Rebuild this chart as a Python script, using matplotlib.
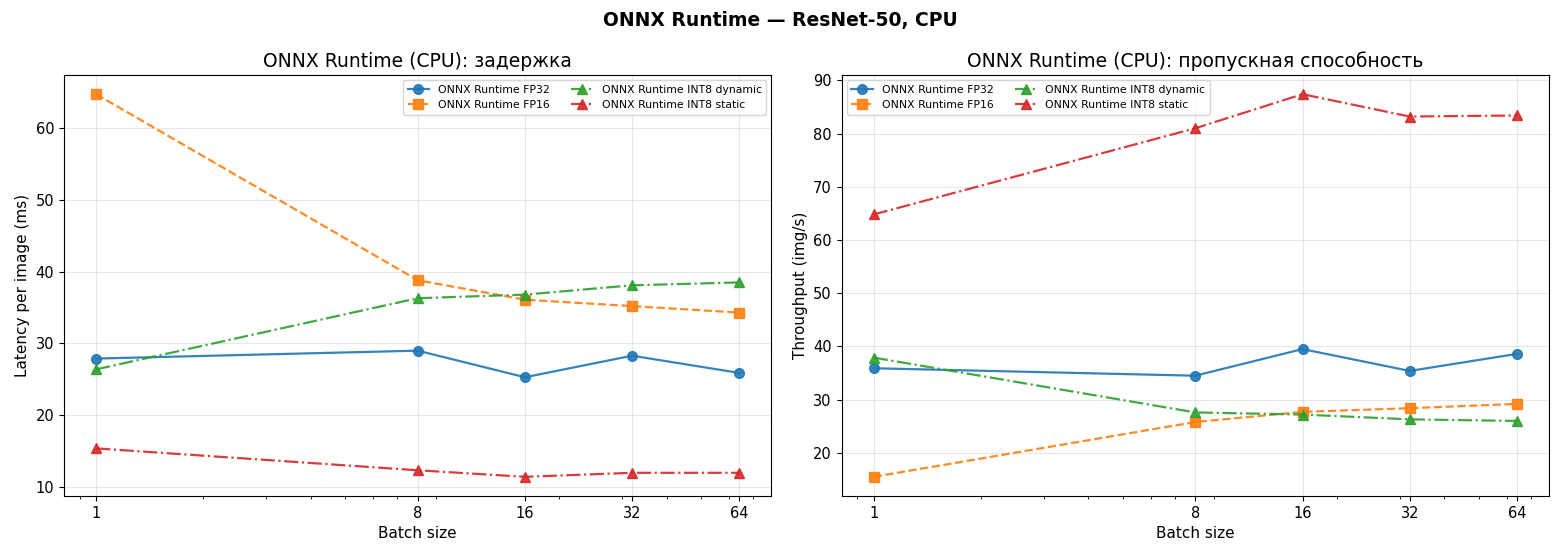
import matplotlib
matplotlib.use("Agg")
import matplotlib.pyplot as plt
from matplotlib.ticker import ScalarFormatter, NullFormatter

batch_sizes = [1, 8, 16, 32, 64]
series_names = ["ONNX Runtime FP32", "ONNX Runtime FP16",
                "ONNX Runtime INT8 dynamic", "ONNX Runtime INT8 static"]

latency_fp32 = [27.9, 29.0, 25.3, 28.3, 25.9]
latency_fp16 = [64.7, 38.8, 36.1, 35.2, 34.3]
latency_int8_dyn = [26.4, 36.3, 36.8, 38.1, 38.5]
latency_int8_static = [15.4, 12.35, 11.44, 12.0, 12.0]

thr_fp32 = [35.9, 34.5, 39.5, 35.4, 38.6]
thr_fp16 = [15.5, 25.8, 27.7, 28.4, 29.2]
thr_int8_dyn = [37.9, 27.6, 27.2, 26.3, 26.0]
thr_int8_static = [64.8, 81.0, 87.4, 83.2, 83.4]

colors = ["#1f77b4", "#ff7f0e", "#2ca02c", "#d62728"]
markers = ["o", "s", "^", "^"]
styles = ["-", "--", "-.", "-."]

fig, axes = plt.subplots(1, 2, figsize=(15.6, 5.56), dpi=100)
fig.subplots_adjust(left=0.041, right=0.993, top=0.865, bottom=0.108, wspace=0.099)

lat = [latency_fp32, latency_fp16, latency_int8_dyn, latency_int8_static]
thr = [thr_fp32, thr_fp16, thr_int8_dyn, thr_int8_static]

for ax, data, title, ylabel, loc in [
    (axes[0], lat, "ONNX Runtime (CPU): задержка", "Latency per image (ms)", "upper right"),
    (axes[1], thr, "ONNX Runtime (CPU): пропускная способность", "Throughput (img/s)", "upper left"),
]:
    for name, vals, c, m, ls in zip(series_names, data, colors, markers, styles):
        ax.plot(batch_sizes, vals, color=c, marker=m, linestyle=ls, linewidth=1.6,
                markersize=7, alpha=0.9, label=name)
    ax.set_xscale("log")
    ax.set_xticks(batch_sizes)
    ax.xaxis.set_major_formatter(ScalarFormatter())
    ax.xaxis.set_minor_formatter(NullFormatter())
    ax.grid(True, which="major", alpha=0.3)
    ax.set_title(title, fontsize=13.5)
    ax.set_xlabel("Batch size", fontsize=11)
    ax.set_ylabel(ylabel, fontsize=11)
    ax.tick_params(labelsize=10.5)
    ax.legend(loc=loc, ncol=2, fontsize=7.8)

fig.suptitle("ONNX Runtime — ResNet-50, CPU", fontsize=13.5, fontweight="bold", y=0.98)
fig.savefig("out.png", dpi=100)
